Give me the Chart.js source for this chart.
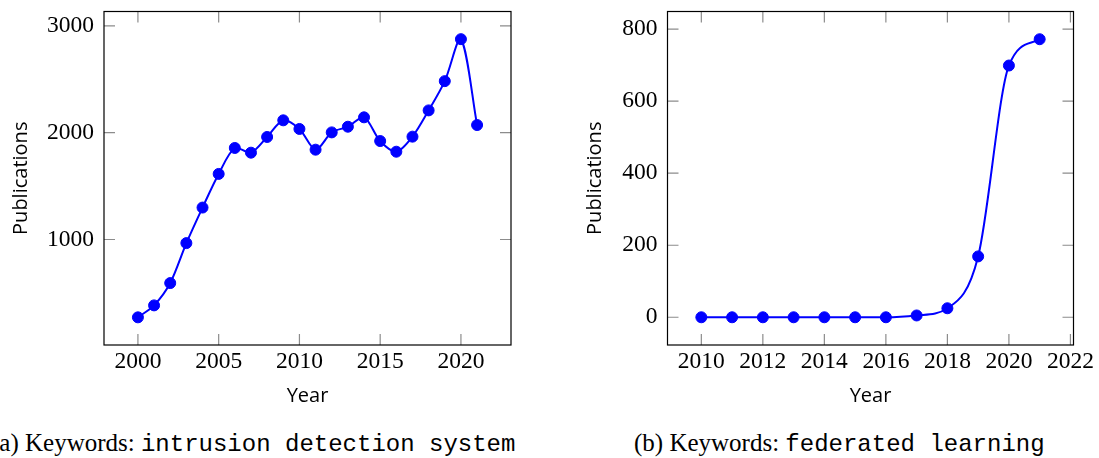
<!DOCTYPE html>
<html>
<head>
<meta charset="utf-8">
<script src="https://cdn.jsdelivr.net/npm/chart.js@4.4.0/dist/chart.umd.min.js"></script>
<style>
  html, body { margin: 0; padding: 0; background: #fff; }
  body { width: 1099px; height: 458px; position: relative; overflow: hidden; }
  .panel { position: absolute; top: 0; height: 420px; }
  #panelA { left: 0; width: 540px; }
  #panelB { left: 560px; width: 539px; }
  .caption { position: absolute; top: 430px; font-family: "Liberation Serif", serif; font-size: 25px; line-height: 25px; white-space: nowrap; color: #000; }
  .caption code { font-family: "Liberation Mono", monospace; font-size: 24px; }
  .preload { position: absolute; left: -500px; top: 0; }
</style>
</head>
<body>
<div class="panel" id="panelA"><canvas id="chartIds"></canvas></div>
<div class="panel" id="panelB"><canvas id="chartFl"></canvas></div>
<div class="caption" style="left:-9px">(a) Keywords: <code>intrusion detection system</code></div>
<div class="caption" style="left:634px">(b) Keywords: <code>federated learning</code></div>
<span class="preload" style="font-family:'Liberation Serif'">0123456789</span>
<span class="preload" style="font-family:'Open Sans'">Year Publications</span>
<script>
// --- data: intrusion detection system ---
const yearsIds = [2000, 2001, 2002, 2003, 2004, 2005, 2006, 2007, 2008, 2009, 2010,
                  2011, 2012, 2013, 2014, 2015, 2016, 2017, 2018, 2019, 2020, 2021];
const pubsIds = [271, 383, 592, 966, 1299, 1614, 1857, 1813, 1960, 2116, 2035,
                 1841, 2003, 2056, 2144, 1922, 1822, 1963, 2209, 2483, 2876, 2072];
const xTicksIds = [2000, 2005, 2010, 2015, 2020];
const yTicksIds = [1000, 2000, 3000];

// --- data: federated learning ---
const yearsFl = [2010, 2011, 2012, 2013, 2014, 2015, 2016, 2017, 2018, 2019, 2020, 2021];
const pubsFl = [0, 0, 0, 0, 0, 0, 0, 5, 25, 169, 699, 772];
const xTicksFl = [2010, 2012, 2014, 2016, 2018, 2020, 2022];
const yTicksFl = [0, 200, 400, 600, 800];

const BLUE = "#0000ff";
const tickFont = { family: "'Liberation Serif', 'Times New Roman', serif", size: 23.5 };
const titleFont = { family: "'Open Sans', sans-serif", size: 20 };

// frame + inward tick marks, pgfplots style
const pgfFrame = {
  id: "pgfFrame",
  beforeDatasetsDraw(chart) {
    const { ctx, chartArea: a, scales } = chart;
    const len = 11;
    ctx.save();
    ctx.strokeStyle = "#8c8c8c";
    ctx.lineWidth = 1.2;
    ctx.beginPath();
    scales.x.ticks.forEach(t => {
      const px = scales.x.getPixelForValue(t.value);
      ctx.moveTo(px, a.bottom); ctx.lineTo(px, a.bottom - len);
      ctx.moveTo(px, a.top); ctx.lineTo(px, a.top + len);
    });
    scales.y.ticks.forEach(t => {
      const py = scales.y.getPixelForValue(t.value);
      ctx.moveTo(a.left, py); ctx.lineTo(a.left + len, py);
      ctx.moveTo(a.right, py); ctx.lineTo(a.right - len, py);
    });
    ctx.stroke();
    ctx.strokeStyle = "#000";
    ctx.lineWidth = 1.2;
    ctx.strokeRect(a.left, a.top, a.right - a.left, a.bottom - a.top);
    ctx.restore();
  }
};

// fixed axis size, no extra label padding pushed into the layout
function fixSize(s, w, h) {
  if (w != null) s.width = w;
  if (h != null) s.height = h;
  s.paddingTop = 0; s.paddingBottom = 0; s.paddingLeft = 0; s.paddingRight = 0;
}

function makeChart(id, years, pubs, xTicks, yTicks, lim) {
  return new Chart(document.getElementById(id), {
    type: "line",
    data: {
      datasets: [{
        data: years.map((y, i) => ({ x: y, y: pubs[i] })),
        borderColor: BLUE,
        backgroundColor: BLUE,
        borderWidth: 2,
        pointRadius: 5.5,
        pointBorderWidth: 1,
        pointBackgroundColor: BLUE,
        tension: lim.tension,
        cubicInterpolationMode: lim.mode,
        fill: false
      }]
    },
    options: {
      responsive: true,
      maintainAspectRatio: false,
      animation: false,
      layout: { padding: { top: 11.5, right: lim.padRight, left: 0, bottom: 0 } },
      plugins: { legend: { display: false }, tooltip: { enabled: false } },
      scales: {
        x: {
          type: "linear",
          min: lim.xmin, max: lim.xmax,
          grid: { display: false, drawTicks: false },
          border: { display: false },
          afterBuildTicks: s => { s.ticks = xTicks.map(v => ({ value: v })); },
          afterFit: s => fixSize(s, null, 75),
          ticks: { font: tickFont, color: "#000", padding: 3, maxRotation: 0, autoSkip: false,
                   callback: v => String(v) },
          title: { display: true, text: "Year", font: titleFont, color: "#000",
                   padding: { top: 0, bottom: 12 } }
        },
        y: {
          min: lim.ymin, max: lim.ymax,
          grid: { display: false, drawTicks: false },
          border: { display: false },
          afterBuildTicks: s => { s.ticks = yTicks.map(v => ({ value: v })); },
          afterFit: s => fixSize(s, lim.yWidth, null),
          ticks: { font: tickFont, color: "#000", padding: 10, callback: v => String(v) },
          title: { display: true, text: "Publications", font: titleFont, color: "#000",
                   padding: { top: lim.titlePad, bottom: 0 } }
        }
      }
    },
    plugins: [pgfFrame]
  });
}

function draw() {
  makeChart("chartIds", yearsIds, pubsIds, xTicksIds, yTicksIds,
    { xmin: 1997.9, xmax: 2023.1, ymin: 12, ymax: 3135, yWidth: 104, padRight: 29, titlePad: 9,
      tension: 0.3, mode: "default" });
  makeChart("chartFl", yearsFl, pubsFl, xTicksFl, yTicksFl,
    { xmin: 2008.9, xmax: 2022.1, ymin: -77, ymax: 849, yWidth: 107.5, padRight: 25.5, titlePad: 23,
      tension: 0.4, mode: "monotone" });
}

Promise.all([
  document.fonts.load("23.5px 'Liberation Serif'"),
  document.fonts.load("20px 'Open Sans'")
]).then(draw, draw);
</script>
</body>
</html>
